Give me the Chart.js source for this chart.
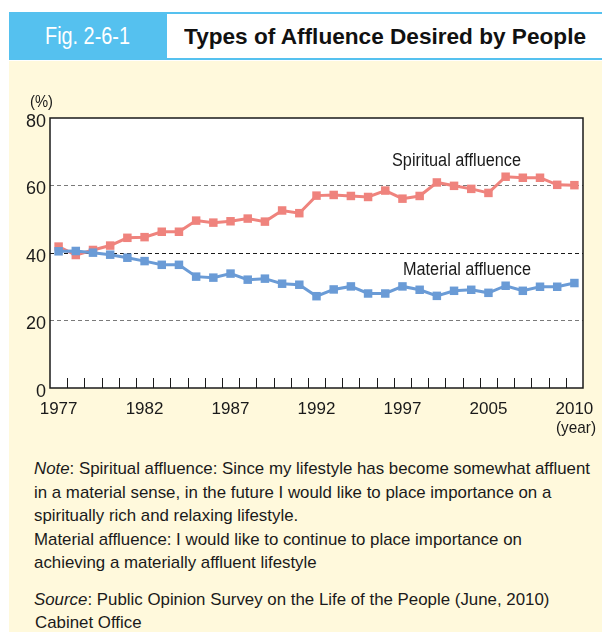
<!DOCTYPE html>
<html>
<head>
<meta charset="utf-8">
<script src="https://cdn.jsdelivr.net/npm/chart.js@4/dist/chart.umd.min.js"></script>
<style>
  html, body { margin: 0; padding: 0; background: #ffffff; }
  body { width: 602px; height: 632px; position: relative; overflow: hidden;
         font-family: "Liberation Sans", Arial, Helvetica, sans-serif; }
  .topline { position: absolute; left: 9px; top: 12px; width: 593px; height: 48px; background: #55c1ef; }
  .titlebox { position: absolute; left: 167px; top: 14px; width: 435px; height: 44px; background: #fff; }
  .panel { position: absolute; left: 9px; top: 61px; width: 593px; height: 571px; background: #fff9dc; }
  canvas { position: absolute; left: 0; top: 0; }
  .t { position: absolute; color: #1a1a1a; white-space: nowrap; line-height: 1; transform-origin: 0 0; }
</style>
</head>
<body>
<div class="topline"></div>
<div class="titlebox"></div>
<div class="panel"></div>
<div class="t fit" data-w="85" style="left:45px; top:25px; font-size:23px; color:#ffffff;">Fig. 2-6-1</div>
<div class="t fit" data-w="402" style="left:184px; top:26px; font-size:22px; font-weight:bold; color:#111;">Types of Affluence Desired by People</div>
<canvas id="c" width="602" height="450"></canvas>
<div class="t fit" data-w="23" style="left:30px; top:93px; font-size:17px;">(%)</div>
<div class="t fit" data-w="129" style="left:392px; top:151px; font-size:18px;">Spiritual affluence</div>
<div class="t fit" data-w="128" style="left:403px; top:260px; font-size:18px;">Material affluence</div>
<div class="t fit" data-w="40" style="left:556px; top:419px; font-size:17px;">(year)</div>
<div class="t note" id="note1" style="left:34px; top:460px; font-size:17px;"><i>Note</i>: Spiritual affluence: Since my lifestyle has become somewhat affluent</div>
<div class="t note" style="left:34px; top:484px; font-size:17px;">in a material sense, in the future I would like to place importance on a</div>
<div class="t note" style="left:34px; top:507px; font-size:17px;">spiritually rich and relaxing lifestyle.</div>
<div class="t note" style="left:34px; top:531px; font-size:17px;">Material affluence: I would like to continue to place importance on</div>
<div class="t note" style="left:34px; top:554px; font-size:17px;">achieving a materially affluent lifestyle</div>
<div class="t note" style="left:34px; top:591px; font-size:17px;"><i>Source</i>: Public Opinion Survey on the Life of the People (June, 2010)</div>
<div class="t note" style="left:35px; top:614px; font-size:17px;">Cabinet Office</div>
<script>
const categories = ['1977','1978','1979','1980','1981','1982','1983','1984','1985','1986','1987',
  '1988','1989','1990','1991','1992','1993','1994','1995','1996','1997',
  '1999','2001','2002','2003','2005','2006','2007','2008','2009','2010'];
const spiritual = [41.9,39.4,40.9,42.2,44.5,44.7,46.3,46.3,49.6,49.0,49.4,50.2,49.3,52.6,51.8,57.0,
  57.2,56.9,56.6,58.5,56.1,56.9,60.9,59.9,59.0,57.8,62.6,62.3,62.3,60.2,60.1];
const material = [40.5,40.6,40.1,39.5,38.6,37.6,36.5,36.5,33.0,32.7,33.9,32.1,32.4,30.9,30.6,27.2,
  29.2,30.1,28.0,28.0,30.1,29.1,27.3,28.8,29.1,28.2,30.3,28.8,30.0,30.0,31.1];
const xTickLabels = ['1977','1982','1987','1992','1997','2005','2010'];
const yTicks = [0,20,40,60,80];

// condense HTML text to the widths seen in the reference
document.querySelectorAll('.fit').forEach(el => {
  const w = el.getBoundingClientRect().width;
  el.style.transform = 'scaleX(' + (parseFloat(el.dataset.w) / w) + ')';
});
(function () {
  const n1 = document.getElementById('note1');
  const s = 556 / n1.getBoundingClientRect().width;
  document.querySelectorAll('.note').forEach(el => { el.style.transform = 'scaleX(' + s + ')'; });
})();

const FONT = '"Liberation Sans", Arial, Helvetica, sans-serif';
const RED = '#ef837d';
const BLUE = '#6a9bd6';

const framePlugin = {
  id: 'frame',
  beforeDraw(chart) {
    const a = chart.chartArea, ctx = chart.ctx;
    ctx.save();
    ctx.fillStyle = '#ffffff';
    ctx.fillRect(a.left, a.top, a.right - a.left, a.bottom - a.top);
    ctx.restore();
  },
  beforeDatasetsDraw(chart) {
    const a = chart.chartArea, ctx = chart.ctx, xs = chart.scales.x;
    ctx.save();
    ctx.strokeStyle = '#1a1a1a';
    ctx.lineWidth = 1;
    for (let i = 0; i < categories.length - 1; i++) {
      const x = Math.round((xs.getPixelForValue(i) + xs.getPixelForValue(i + 1)) / 2) + 0.5;
      ctx.beginPath();
      ctx.moveTo(x, a.bottom);
      ctx.lineTo(x, a.bottom - 10);
      ctx.stroke();
    }
    ctx.lineWidth = 1.5;
    ctx.strokeRect(a.left, a.top, a.right - a.left, a.bottom - a.top);
    ctx.restore();
  }
};

new Chart(document.getElementById('c'), {
  type: 'line',
  data: {
    labels: categories,
    datasets: [
      { label: 'Material affluence', data: material, borderColor: BLUE, backgroundColor: BLUE,
        borderWidth: 3, pointStyle: 'rect', pointRadius: 6, pointBorderWidth: 0, tension: 0 },
      { label: 'Spiritual affluence', data: spiritual, borderColor: RED, backgroundColor: RED,
        borderWidth: 3, pointStyle: 'rect', pointRadius: 6, pointBorderWidth: 0, tension: 0 }
    ]
  },
  options: {
    responsive: false,
    devicePixelRatio: 1,
    animation: false,
    layout: { padding: { top: 118, right: 19, left: 0, bottom: 0 } },
    plugins: { legend: { display: false }, tooltip: { enabled: false } },
    scales: {
      x: {
        type: 'category',
        offset: true,
        grid: { display: false },
        border: { display: false },
        ticks: {
          autoSkip: false, maxRotation: 0, minRotation: 0, padding: 3,
          color: '#1a1a1a', font: { family: FONT, size: 17 },
          callback(v, i) { const l = categories[i]; return xTickLabels.includes(l) ? l : ''; }
        },
        afterFit(s) { s.height = 62; }
      },
      y: {
        min: 0, max: 80,
        afterBuildTicks(s) { s.ticks = yTicks.map(v => ({ value: v })); },
        grid: {
          drawTicks: false,
          lineWidth: 1,
          color(ctx) {
            const v = ctx.tick && ctx.tick.value;
            if (v === 0 || v === 80) return 'rgba(0,0,0,0)';
            return v === 40 ? '#1a1a1a' : '#7a7a7a';
          }
        },
        border: { display: false, dash: [4, 3] },
        ticks: { padding: 4, labelOffset: 4, color: '#1a1a1a', font: { family: FONT, size: 18 } },
        afterFit(s) { s.width = 50; }
      }
    }
  },
  plugins: [framePlugin]
});
</script>
</body>
</html>
